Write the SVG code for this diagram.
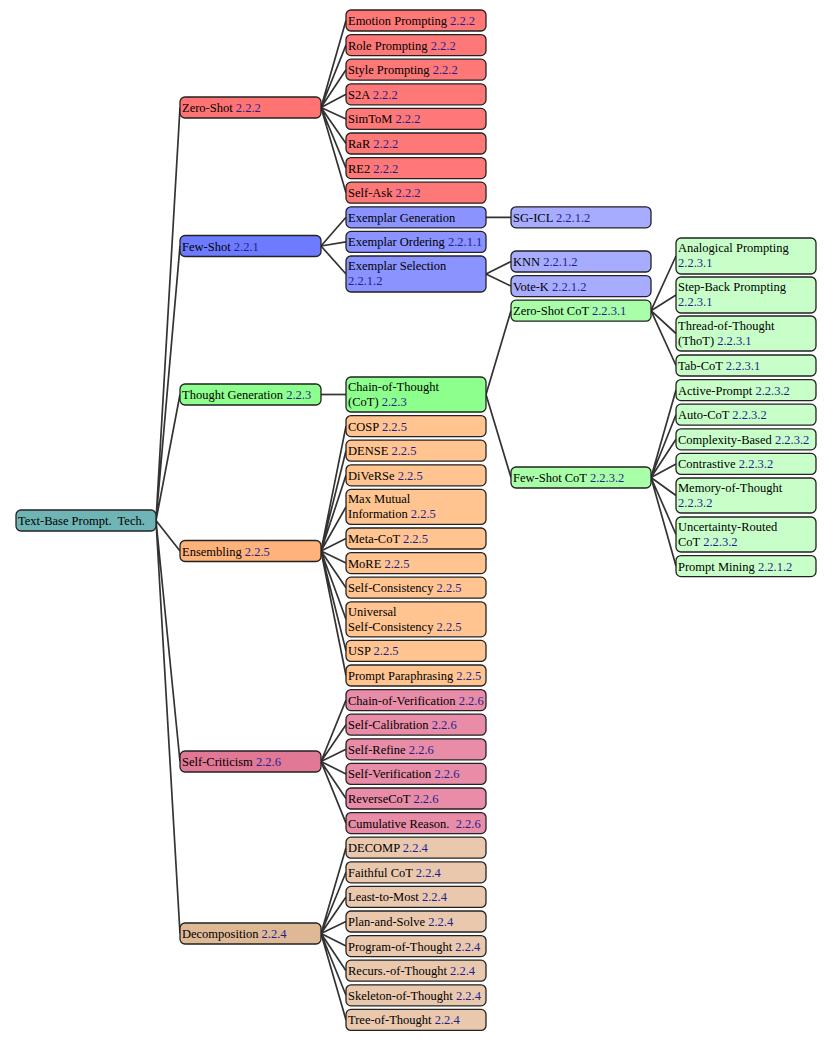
<svg xmlns="http://www.w3.org/2000/svg" width="833" height="1039" viewBox="0 0 833 1039">
<style>
rect{stroke:#222;stroke-width:1.3;rx:5;ry:5}
text{font-family:"Liberation Serif","Times New Roman",serif;font-size:12.5px;fill:#000}
.n{fill:#1f1f8f}
.root{fill:#6fb5b5}
.zs1{fill:#ff7373}.zs2{fill:#ff7878}
.fs1{fill:#6e7bff}.fs2{fill:#8a93ff}.fs3{fill:#a8acff}
.tg1{fill:#8cff8c}.tg3{fill:#a8ffa8}.tg4{fill:#c8ffc8}
.en1{fill:#ffb27a}.en2{fill:#ffc490}
.sc1{fill:#e07896}.sc2{fill:#e88ca8}
.de1{fill:#dfb896}.de2{fill:#e9c8ae}
.conn path{stroke:#333;stroke-width:1.7;fill:none}
</style>
<g class="conn" id="connectors">
<path d="M156,520.5L180,107.5M156,520.5L180,246M156,520.5L180,394.5M156,520.5L180,551M156,520.5L180,761.5M156,520.5L180,933.5"/>
<path d="M321,107.5L346,20.5M321,107.5L346,45.1M321,107.5L346,69.7M321,107.5L346,94.3M321,107.5L346,118.9M321,107.5L346,143.5M321,107.5L346,168.1M321,107.5L346,192.7"/>
<path d="M321,246L346,217.3M321,246L346,241.9M321,246L346,274"/>
<path d="M321,394.5L346,394.5"/>
<path d="M321,551L346,426.1M321,551L346,450.7M321,551L346,475.3M321,551L346,506.9M321,551L346,538.5M321,551L346,563.1M321,551L346,587.7M321,551L346,619.3M321,551L346,650.9M321,551L346,675.5"/>
<path d="M321,761.5L346,700.1M321,761.5L346,724.7M321,761.5L346,749.3M321,761.5L346,773.9M321,761.5L346,798.5M321,761.5L346,823.1"/>
<path d="M321,933.5L346,847.7M321,933.5L346,872.3M321,933.5L346,896.9M321,933.5L346,921.5M321,933.5L346,946.1M321,933.5L346,970.7M321,933.5L346,995.3M321,933.5L346,1019.9"/>
<path d="M486,217.3L511,217.3M486,274L511,261.5M486,274L511,286.1M486,394.5L511,310.7M486,394.5L511,477.5"/>
<path d="M651,310.7L676,256M651,310.7L676,295M651,310.7L676,333.5M651,310.7L676,365.5"/>
<path d="M651,477.5L676,390.1M651,477.5L676,414.7M651,477.5L676,439.3M651,477.5L676,463.9M651,477.5L676,495.5M651,477.5L676,534.5M651,477.5L676,566.1"/>
</g>
<g id="root"><rect class="root" x="16" y="510" width="140" height="21"/><text x="18" y="525" xml:space="preserve">Text-Base Prompt.  Tech.</text></g>
<g id="zeroshot"><rect class="zs1" x="180" y="97" width="141" height="21"/><text x="182" y="112">Zero-Shot <tspan class="n">2.2.2</tspan></text></g>
<g id="fewshot"><rect class="fs1" x="180" y="235.5" width="141" height="21"/><text x="182" y="250.5">Few-Shot <tspan class="n">2.2.1</tspan></text></g>
<g id="thoughtgen"><rect class="tg1" x="180" y="384" width="141" height="21"/><text x="182" y="399">Thought Generation <tspan class="n">2.2.3</tspan></text></g>
<g id="ensembling"><rect class="en1" x="180" y="540.5" width="141" height="21"/><text x="182" y="555.5">Ensembling <tspan class="n">2.2.5</tspan></text></g>
<g id="selfcriticism"><rect class="sc1" x="180" y="751" width="141" height="21"/><text x="182" y="766">Self-Criticism <tspan class="n">2.2.6</tspan></text></g>
<g id="decomposition"><rect class="de1" x="180" y="923" width="141" height="21"/><text x="182" y="938">Decomposition <tspan class="n">2.2.4</tspan></text></g>

<g id="emotion"><rect class="zs2" x="346" y="10" width="140" height="21"/><text x="348" y="25">Emotion Prompting <tspan class="n">2.2.2</tspan></text></g>
<g id="role"><rect class="zs2" x="346" y="34.6" width="140" height="21"/><text x="348" y="49.6">Role Prompting <tspan class="n">2.2.2</tspan></text></g>
<g id="style"><rect class="zs2" x="346" y="59.2" width="140" height="21"/><text x="348" y="74.2">Style Prompting <tspan class="n">2.2.2</tspan></text></g>
<g id="s2a"><rect class="zs2" x="346" y="83.8" width="140" height="21"/><text x="348" y="98.8">S2A <tspan class="n">2.2.2</tspan></text></g>
<g id="simtom"><rect class="zs2" x="346" y="108.4" width="140" height="21"/><text x="348" y="123.4">SimToM <tspan class="n">2.2.2</tspan></text></g>
<g id="rar"><rect class="zs2" x="346" y="133" width="140" height="21"/><text x="348" y="148">RaR <tspan class="n">2.2.2</tspan></text></g>
<g id="re2"><rect class="zs2" x="346" y="157.6" width="140" height="21"/><text x="348" y="172.6">RE2 <tspan class="n">2.2.2</tspan></text></g>
<g id="selfask"><rect class="zs2" x="346" y="182.2" width="140" height="21"/><text x="348" y="197.2">Self-Ask <tspan class="n">2.2.2</tspan></text></g>

<g id="exgen"><rect class="fs2" x="346" y="206.8" width="140" height="21"/><text x="348" y="221.8">Exemplar Generation</text></g>
<g id="exord"><rect class="fs2" x="346" y="231.4" width="140" height="21"/><text x="348" y="246.4">Exemplar Ordering <tspan class="n">2.2.1.1</tspan></text></g>
<g id="exsel"><rect class="fs2" x="346" y="256" width="140" height="36"/><text x="348" y="270">Exemplar Selection</text><text x="348" y="285" class="n">2.2.1.2</text></g>

<g id="cot"><rect class="tg1" x="346" y="377" width="140" height="35"/><text x="348" y="391">Chain-of-Thought</text><text x="348" y="406">(CoT) <tspan class="n">2.2.3</tspan></text></g>

<g id="cosp"><rect class="en2" x="346" y="415.6" width="140" height="21"/><text x="348" y="430.6">COSP <tspan class="n">2.2.5</tspan></text></g>
<g id="dense"><rect class="en2" x="346" y="440.2" width="140" height="21"/><text x="348" y="455.2">DENSE <tspan class="n">2.2.5</tspan></text></g>
<g id="diverse"><rect class="en2" x="346" y="464.8" width="140" height="21"/><text x="348" y="479.8">DiVeRSe <tspan class="n">2.2.5</tspan></text></g>
<g id="maxmutual"><rect class="en2" x="346" y="489.4" width="140" height="35"/><text x="348" y="503.4">Max Mutual</text><text x="348" y="518.4">Information <tspan class="n">2.2.5</tspan></text></g>
<g id="metacot"><rect class="en2" x="346" y="528" width="140" height="21"/><text x="348" y="543">Meta-CoT <tspan class="n">2.2.5</tspan></text></g>
<g id="more"><rect class="en2" x="346" y="552.6" width="140" height="21"/><text x="348" y="567.6">MoRE <tspan class="n">2.2.5</tspan></text></g>
<g id="selfcons"><rect class="en2" x="346" y="577.2" width="140" height="21"/><text x="348" y="592.2">Self-Consistency <tspan class="n">2.2.5</tspan></text></g>
<g id="universal"><rect class="en2" x="346" y="601.8" width="140" height="35"/><text x="348" y="615.8">Universal</text><text x="348" y="630.8">Self-Consistency <tspan class="n">2.2.5</tspan></text></g>
<g id="usp"><rect class="en2" x="346" y="640.4" width="140" height="21"/><text x="348" y="655.4">USP <tspan class="n">2.2.5</tspan></text></g>
<g id="paraphrasing"><rect class="en2" x="346" y="665" width="140" height="21"/><text x="348" y="680">Prompt Paraphrasing <tspan class="n">2.2.5</tspan></text></g>

<g id="cov"><rect class="sc2" x="346" y="689.6" width="140" height="21"/><text x="348" y="704.6">Chain-of-Verification <tspan class="n">2.2.6</tspan></text></g>
<g id="selfcal"><rect class="sc2" x="346" y="714.2" width="140" height="21"/><text x="348" y="729.2">Self-Calibration <tspan class="n">2.2.6</tspan></text></g>
<g id="selfrefine"><rect class="sc2" x="346" y="738.8" width="140" height="21"/><text x="348" y="753.8">Self-Refine <tspan class="n">2.2.6</tspan></text></g>
<g id="selfver"><rect class="sc2" x="346" y="763.4" width="140" height="21"/><text x="348" y="778.4">Self-Verification <tspan class="n">2.2.6</tspan></text></g>
<g id="reversecot"><rect class="sc2" x="346" y="788" width="140" height="21"/><text x="348" y="803">ReverseCoT <tspan class="n">2.2.6</tspan></text></g>
<g id="cumulative"><rect class="sc2" x="346" y="812.6" width="140" height="21"/><text x="348" y="827.6" xml:space="preserve">Cumulative Reason.  <tspan class="n">2.2.6</tspan></text></g>

<g id="decomp"><rect class="de2" x="346" y="837.2" width="140" height="21"/><text x="348" y="852.2">DECOMP <tspan class="n">2.2.4</tspan></text></g>
<g id="faithful"><rect class="de2" x="346" y="861.8" width="140" height="21"/><text x="348" y="876.8">Faithful CoT <tspan class="n">2.2.4</tspan></text></g>
<g id="least"><rect class="de2" x="346" y="886.4" width="140" height="21"/><text x="348" y="901.4">Least-to-Most <tspan class="n">2.2.4</tspan></text></g>
<g id="plan"><rect class="de2" x="346" y="911" width="140" height="21"/><text x="348" y="926">Plan-and-Solve <tspan class="n">2.2.4</tspan></text></g>
<g id="program"><rect class="de2" x="346" y="935.6" width="140" height="21"/><text x="348" y="950.6">Program-of-Thought <tspan class="n">2.2.4</tspan></text></g>
<g id="recurs"><rect class="de2" x="346" y="960.2" width="140" height="21"/><text x="348" y="975.2">Recurs.-of-Thought <tspan class="n">2.2.4</tspan></text></g>
<g id="skeleton"><rect class="de2" x="346" y="984.8" width="140" height="21"/><text x="348" y="999.8">Skeleton-of-Thought <tspan class="n">2.2.4</tspan></text></g>
<g id="tree"><rect class="de2" x="346" y="1009.4" width="140" height="21"/><text x="348" y="1024.4">Tree-of-Thought <tspan class="n">2.2.4</tspan></text></g>

<g id="sgicl"><rect class="fs3" x="511" y="206.8" width="140" height="21"/><text x="513" y="221.8">SG-ICL <tspan class="n">2.2.1.2</tspan></text></g>
<g id="knn"><rect class="fs3" x="511" y="251" width="140" height="21"/><text x="513" y="266">KNN <tspan class="n">2.2.1.2</tspan></text></g>
<g id="votek"><rect class="fs3" x="511" y="275.6" width="140" height="21"/><text x="513" y="290.6">Vote-K <tspan class="n">2.2.1.2</tspan></text></g>
<g id="zscot"><rect class="tg3" x="511" y="300.2" width="140" height="21"/><text x="513" y="315.2">Zero-Shot CoT <tspan class="n">2.2.3.1</tspan></text></g>
<g id="fscot"><rect class="tg3" x="511" y="467" width="140" height="21"/><text x="513" y="482">Few-Shot CoT <tspan class="n">2.2.3.2</tspan></text></g>

<g id="analogical"><rect class="tg4" x="676" y="238" width="140" height="36"/><text x="678" y="252">Analogical Prompting</text><text x="678" y="267" class="n">2.2.3.1</text></g>
<g id="stepback"><rect class="tg4" x="676" y="277" width="140" height="36"/><text x="678" y="291">Step-Back Prompting</text><text x="678" y="306" class="n">2.2.3.1</text></g>
<g id="thot"><rect class="tg4" x="676" y="316" width="140" height="35"/><text x="678" y="330">Thread-of-Thought</text><text x="678" y="345">(ThoT) <tspan class="n">2.2.3.1</tspan></text></g>
<g id="tabcot"><rect class="tg4" x="676" y="355" width="140" height="21"/><text x="678" y="370">Tab-CoT <tspan class="n">2.2.3.1</tspan></text></g>
<g id="active"><rect class="tg4" x="676" y="379.6" width="140" height="21"/><text x="678" y="394.6">Active-Prompt <tspan class="n">2.2.3.2</tspan></text></g>
<g id="autocot"><rect class="tg4" x="676" y="404.2" width="140" height="21"/><text x="678" y="419.2">Auto-CoT <tspan class="n">2.2.3.2</tspan></text></g>
<g id="complexity"><rect class="tg4" x="676" y="428.8" width="140" height="21"/><text x="678" y="443.8">Complexity-Based <tspan class="n">2.2.3.2</tspan></text></g>
<g id="contrastive"><rect class="tg4" x="676" y="453.4" width="140" height="21"/><text x="678" y="468.4">Contrastive <tspan class="n">2.2.3.2</tspan></text></g>
<g id="memory"><rect class="tg4" x="676" y="478" width="140" height="35"/><text x="678" y="492">Memory-of-Thought</text><text x="678" y="507" class="n">2.2.3.2</text></g>
<g id="uncertainty"><rect class="tg4" x="676" y="517" width="140" height="35"/><text x="678" y="531">Uncertainty-Routed</text><text x="678" y="546">CoT <tspan class="n">2.2.3.2</tspan></text></g>
<g id="mining"><rect class="tg4" x="676" y="555.6" width="140" height="21"/><text x="678" y="570.6">Prompt Mining <tspan class="n">2.2.1.2</tspan></text></g>
</svg>
